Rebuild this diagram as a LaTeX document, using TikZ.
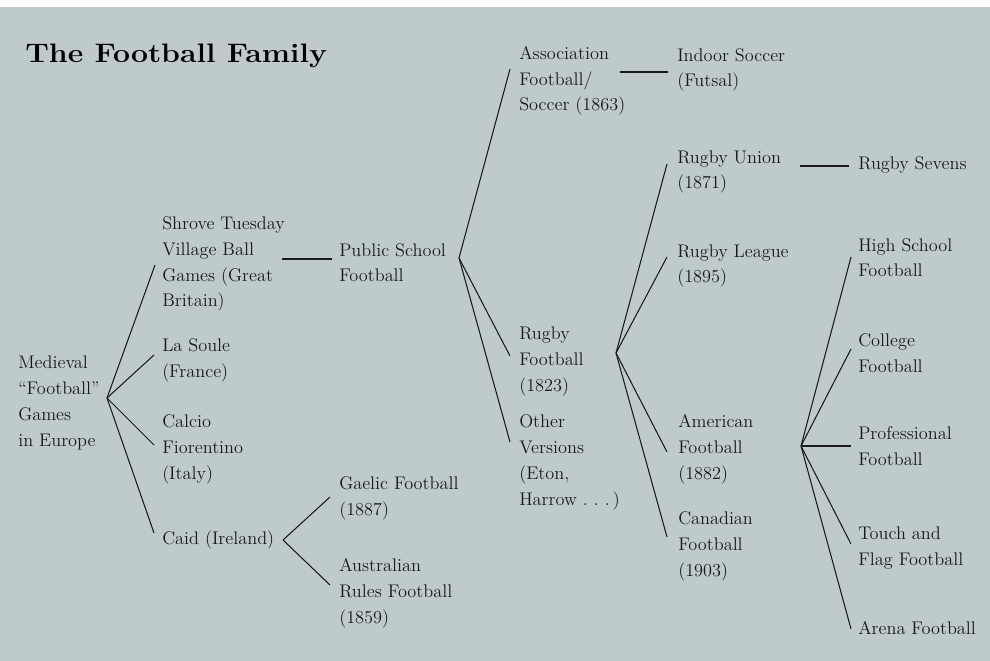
\documentclass[tikz,border=0pt]{standalone}
\usepackage{graphicx}
\usepackage{tikz}
\definecolor{famgray}{RGB}{191,203,203}
\definecolor{famink}{RGB}{26,26,26}
\tikzset{
	famtext/.style={anchor=base west, inner sep=0pt, align=left, text=famink,
		font=\fontsize{13}{18.4}\selectfont},
	famline/.style={line width=0.75pt, famink},
}

\begin{document}
\begin{tikzpicture}[x=0.025cm, y=-0.025cm]
		\useasboundingbox (0,0) rectangle (990,661);
		\fill[white] (0,0) rectangle (990,661);
		\fill[famgray] (0,7) rectangle (990,661);
		\node[anchor=base west, inner sep=0pt, text=black, font=\fontsize{19}{19}\selectfont\bfseries] (title) at (25,63) {\scalebox{1.13}[1]{The Football Family}};
		% nodes sit on the baseline of their last line
		% first column
		\node[famtext] (medieval) at (18,446) {Medieval\\``Football''\\Games\\in Europe};
		% second column
		\node[famtext] (shrove) at (162,307) {Shrove Tuesday\\Village Ball\\Games (Great\\Britain)};
		\node[famtext] (soule) at (162,377) {La Soule\\(France)};
		\node[famtext] (calcio) at (162,479) {Calcio\\Fiorentino\\(Italy)};
		\node[famtext] (caid) at (162,544) {Caid (Ireland)};
		% third column
		\node[famtext] (public) at (339,282) {Public School\\Football};
		\node[famtext] (gaelic) at (339,515) {Gaelic Football\\(1887)};
		\node[famtext] (aussie) at (339,623) {Australian\\Rules Football\\(1859)};
		% fourth column
		\node[famtext] (assoc) at (519,111) {Association\\Football/\\Soccer (1863)};
		\node[famtext] (rugby) at (519,391) {Rugby\\Football\\(1823)};
		\node[famtext] (other) at (519,505) {Other\\Versions\\(Eton,\\Harrow .\ .\ .\,)};
		% fifth column
		\node[famtext] (indoor) at (677,87) {Indoor Soccer\\(Futsal)};
		\node[famtext] (union) at (677,189) {Rugby Union\\(1871)};
		\node[famtext] (league) at (677,283) {Rugby League\\(1895)};
		\node[famtext] (american) at (678,479) {American\\Football\\(1882)};
		\node[famtext] (canadian) at (678,576) {Canadian\\Football\\(1903)};
		% last column
		\node[famtext] (sevens) at (858,170) {Rugby Sevens};
		\node[famtext] (highschool) at (858,277) {High School\\Football};
		\node[famtext] (college) at (858,372) {College\\Football};
		\node[famtext] (pro) at (858,465) {Professional\\Football};
		\node[famtext] (touch) at (858,565) {Touch and\\Flag Football};
		\node[famtext] (arena) at (858,634) {Arena Football};
		% branching points and line ends
		\coordinate (hubM) at (107,398);
		\coordinate (hubP) at (459,258);
		\coordinate (hubC) at (283,540);
		\coordinate (hubR) at (616,353);
		\coordinate (hubA) at (801,446);
		\coordinate (toShrove) at (155,265);
		\coordinate (toSoule) at (154,355);
		\coordinate (toCalcio) at (154,445);
		\coordinate (toCaid) at (154,533);
		\coordinate (fromShrove) at (282,259);
		\coordinate (toPublic) at (332,259);
		\coordinate (toAssoc) at (510,69);
		\coordinate (toRugby) at (510,356);
		\coordinate (toOther) at (510,442);
		\coordinate (fromAssoc) at (620,72);
		\coordinate (toIndoor) at (668,72);
		\coordinate (toGaelic) at (330,497);
		\coordinate (toAussie) at (330,585);
		\coordinate (toUnion) at (667,164);
		\coordinate (toLeague) at (667,257);
		\coordinate (toAmerican) at (667,452);
		\coordinate (toCanadian) at (667,537);
		\coordinate (fromUnion) at (800,166);
		\coordinate (toSevens) at (849,166);
		\coordinate (toHigh) at (851,257);
		\coordinate (toCollege) at (851,349);
		\coordinate (toPro) at (851,446);
		\coordinate (toTouch) at (851,544);
		\coordinate (toArena) at (851,629);
		% branches
		\foreach \e in {toShrove,toSoule,toCalcio,toCaid}
			\draw[famline] (hubM) -- (\e);
		\foreach \e in {toAssoc,toRugby,toOther}
			\draw[famline] (hubP) -- (\e);
		\foreach \e in {toGaelic,toAussie}
			\draw[famline] (hubC) -- (\e);
		\foreach \e in {toUnion,toLeague,toAmerican,toCanadian}
			\draw[famline] (hubR) -- (\e);
		\foreach \e in {toHigh,toCollege,toPro,toTouch,toArena}
			\draw[famline] (hubA) -- (\e);
		\draw[famline] (fromShrove) -- (toPublic);
		\draw[famline] (fromAssoc) -- (toIndoor);
		\draw[famline] (fromUnion) -- (toSevens);
\end{tikzpicture}
\end{document}
